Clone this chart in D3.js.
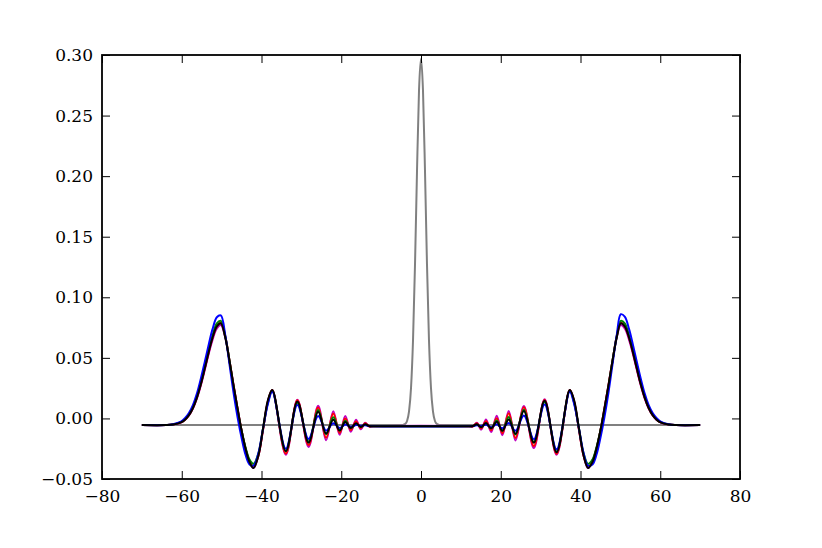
<!DOCTYPE html>
<html>
<head>
<meta charset="utf-8">
<script src="https://cdn.jsdelivr.net/npm/d3@7"></script>
<style>
  body { margin: 0; background: #fff; }
  text { font-family: "DejaVu Serif", serif; }
</style>
</head>
<body>
<svg id="chart"></svg>
<script>
const width = 822;
const height = 548;

// knot positions of the wave curves
const lobeXLeft = [-70, -64, -62.2, -60.2, -59.2, -58.2, -57.2, -56.2, -55.2, -54.2, -53.2, -52.3, -51.2,
  -50.2, -49.1, -48.0, -47.0, -46.0, -45.0, -44.0, -43.0, -42.0, -40.8, -39.6, -38.4, -37.3];
const rippleXLeft = [-33.9, -31.0, -28.2, -25.8, -23.8, -22.0, -20.4, -19.0, -17.6, -16.3, -15.1, -14.0, -13.0, -12.0];
const rippleXRight = [12.0, 13.0, 14.0, 15.1, 16.3, 17.6, 19.0, 20.4, 22.0, 23.7, 25.8, 28.3, 31.0, 34.0];
const lobeXRight = [37.3, 38.4, 39.6, 40.8, 41.9, 43.0, 44.0, 45.0, 46.0, 47.0, 48.0, 49.1, 50.1,
  51.1, 52.2, 53.1, 54.1, 55.1, 56.1, 57.1, 58.1, 59.1, 60.1, 62.1, 64.0, 70.0];

const blueY = [
  // left lobe
  -0.0055, -0.0054, -0.0048, -0.0026, 0.0002, 0.0045, 0.0110, 0.0205, 0.0330, 0.0470, 0.0615, 0.0735, 0.0835,
  0.0850, 0.069, 0.044, 0.021, 0.001, -0.016, -0.030, -0.038, -0.039, -0.029, -0.008, 0.012, 0.022,
  // ripples
  -0.0250, 0.0110, -0.0170, 0.0020, -0.0100, -0.0040, -0.0080, -0.0050, -0.0070, -0.0055, -0.0060, -0.0057, -0.0062, -0.0064,
  -0.0064, -0.0062, -0.0057, -0.0062, -0.0053, -0.0072, -0.0048, -0.0082, -0.0038, -0.0102, 0.0025, -0.0172, 0.0115, -0.0255,
  // right lobe
  0.022, 0.012, -0.008, -0.029, -0.039, -0.038, -0.030, -0.016, 0.001, 0.021, 0.044, 0.069, 0.0860,
  0.0840, 0.0735, 0.0615, 0.0470, 0.0330, 0.0205, 0.0110, 0.0045, 0.0002, -0.0026, -0.0048, -0.0054, -0.0055
];
const greenY = [
  -0.0055, -0.0055, -0.0050, -0.0031, -0.0008, 0.0031, 0.0092, 0.0180, 0.0295, 0.0430, 0.0570, 0.0683, 0.0785,
  0.0805, 0.068, 0.047, 0.026, 0.007, -0.010, -0.024, -0.034, -0.0375, -0.029, -0.008, 0.013, 0.023,
  -0.0270, 0.0130, -0.0190, 0.0070, -0.0130, 0.0010, -0.0100, -0.0020, -0.0080, -0.0045, -0.0070, -0.0050, -0.0063, -0.0064,
  -0.0064, -0.0063, -0.0050, -0.0072, -0.0043, -0.0082, -0.0018, -0.0102, 0.0012, -0.0132, 0.0072, -0.0195, 0.0135, -0.0272,
  0.023, 0.013, -0.008, -0.029, -0.0375, -0.034, -0.024, -0.010, 0.007, 0.026, 0.047, 0.068, 0.0805,
  0.0785, 0.0683, 0.0570, 0.0430, 0.0295, 0.0180, 0.0092, 0.0031, -0.0008, -0.0031, -0.0050, -0.0055, -0.0055
];
const redY = [
  -0.0055, -0.0055, -0.0051, -0.0033, -0.0011, 0.0027, 0.0086, 0.0172, 0.0284, 0.0416, 0.0553, 0.0664, 0.0762,
  0.0790, 0.068, 0.047, 0.027, 0.008, -0.010, -0.025, -0.035, -0.040, -0.031, -0.009, 0.014, 0.0235,
  -0.0290, 0.0150, -0.0220, 0.0090, -0.0160, 0.0040, -0.0120, 0.0000, -0.0095, -0.0025, -0.0080, -0.0040, -0.0065, -0.0064,
  -0.0064, -0.0065, -0.0040, -0.0082, -0.0023, -0.0097, 0.0002, -0.0122, 0.0042, -0.0162, 0.0092, -0.0228, 0.0152, -0.0292,
  0.0235, 0.014, -0.009, -0.031, -0.040, -0.035, -0.025, -0.010, 0.008, 0.027, 0.047, 0.068, 0.0790,
  0.0762, 0.0664, 0.0553, 0.0416, 0.0284, 0.0172, 0.0086, 0.0027, -0.0011, -0.0033, -0.0051, -0.0055, -0.0055
];
const magentaY = [
  -0.0055, -0.0055, -0.0051, -0.0034, -0.0013, 0.0024, 0.0081, 0.0165, 0.0275, 0.0404, 0.0538, 0.0646, 0.0742,
  0.0770, 0.067, 0.047, 0.027, 0.008, -0.010, -0.025, -0.036, -0.041, -0.031, -0.009, 0.014, 0.0235,
  -0.0300, 0.0155, -0.0235, 0.0105, -0.0180, 0.0060, -0.0135, 0.0020, -0.0110, -0.0010, -0.0090, -0.0035, -0.0067, -0.0064,
  -0.0064, -0.0067, -0.0035, -0.0092, -0.0008, -0.0112, 0.0022, -0.0138, 0.0062, -0.0182, 0.0102, -0.0245, 0.0158, -0.0300,
  0.0235, 0.014, -0.009, -0.031, -0.041, -0.036, -0.025, -0.010, 0.008, 0.027, 0.047, 0.067, 0.0770,
  0.0742, 0.0646, 0.0538, 0.0404, 0.0275, 0.0165, 0.0081, 0.0024, -0.0013, -0.0034, -0.0051, -0.0055, -0.0055
];
const blackY = [
  -0.0055, -0.0055, -0.0051, -0.0033, -0.0011, 0.0027, 0.0086, 0.0172, 0.0284, 0.0416, 0.0553, 0.0664, 0.0760,
  0.0785, 0.067, 0.047, 0.027, 0.008, -0.010, -0.025, -0.036, -0.041, -0.031, -0.008, 0.015, 0.0235,
  -0.0270, 0.0140, -0.0200, 0.0055, -0.0125, -0.0010, -0.0100, -0.0030, -0.0080, -0.0040, -0.0070, -0.0048, -0.0063, -0.0064,
  -0.0064, -0.0063, -0.0048, -0.0072, -0.0038, -0.0082, -0.0028, -0.0102, -0.0008, -0.0127, 0.0062, -0.0200, 0.0145, -0.0280,
  0.0235, 0.015, -0.008, -0.031, -0.041, -0.036, -0.025, -0.010, 0.008, 0.027, 0.047, 0.067, 0.0785,
  0.0760, 0.0664, 0.0553, 0.0416, 0.0284, 0.0172, 0.0086, 0.0027, -0.0011, -0.0033, -0.0051, -0.0055, -0.0055
];

// central gray peak
const peakX = [-70, -5, -4.5, -4, -3.5, -3, -2.5, -2, -1.5, -1, -0.5, 0, 0.5, 1, 1.5, 2, 2.5, 3, 3.5, 4, 4.5, 5, 70];
const peakY = [
  -0.0055, -0.0055, -0.0053, -0.0046, -0.0021, 0.0058, 0.0253, 0.0647, 0.1275, 0.2045, 0.2706, 0.2970,
  0.2706, 0.2045, 0.1275, 0.0647, 0.0253, 0.0058, -0.0021, -0.0046, -0.0053, -0.0055, -0.0055
];

const xTicks = [-80, -60, -40, -20, 0, 20, 40, 60, 80];
const yTicks = [-0.05, 0.00, 0.05, 0.10, 0.15, 0.20, 0.25, 0.30];

const waveX = lobeXLeft.concat(rippleXLeft, rippleXRight, lobeXRight);

const plotLeft = 102, plotRight = 740, plotTop = 55, plotBottom = 479;

const svg = d3.select("#chart")
    .attr("width", width)
    .attr("height", height);

const x = d3.scaleLinear().domain([-80, 80]).range([plotLeft, plotRight]);
const y = d3.scaleLinear().domain([-0.05, 0.30]).range([plotBottom, plotTop]);

const waveLine = d3.line()
    .x(d => x(d[0]))
    .y(d => y(d[1]))
    .curve(d3.curveCatmullRom.alpha(0.5));

const peakLine = d3.line()
    .x(d => x(d[0]))
    .y(d => y(d[1]))
    .curve(d3.curveMonotoneX);

const series = [
    {color: "#808080", xs: peakX, ys: peakY, line: peakLine},
    {color: "#bf00bf", xs: waveX, ys: magentaY, line: waveLine},
    {color: "#ff0000", xs: waveX, ys: redY, line: waveLine},
    {color: "#008000", xs: waveX, ys: greenY, line: waveLine},
    {color: "#0000ff", xs: waveX, ys: blueY, line: waveLine},
    {color: "#000000", xs: waveX, ys: blackY, line: waveLine}
];

svg.append("g")
    .selectAll("path")
    .data(series)
    .enter()
    .append("path")
    .attr("fill", "none")
    .attr("stroke", d => d.color)
    .attr("stroke-width", 2)
    .attr("d", d => d.line(d.xs.map((v, i) => [v, d.ys[i]])));

// axes with inward ticks on all four sides
const tick = 8;
svg.append("g")
    .attr("transform", `translate(0,${plotBottom})`)
    .call(d3.axisBottom(x).tickValues(xTicks).tickSizeInner(-tick).tickSizeOuter(0).tickPadding(11))
    .call(g => g.select(".domain").remove());
svg.append("g")
    .attr("transform", `translate(0,${plotTop})`)
    .call(d3.axisTop(x).tickValues(xTicks).tickSizeInner(-tick).tickSizeOuter(0).tickFormat(""))
    .call(g => g.select(".domain").remove());
svg.append("g")
    .attr("transform", `translate(${plotLeft},0)`)
    .call(d3.axisLeft(y).tickValues(yTicks).tickSizeInner(-tick).tickSizeOuter(0).tickPadding(9).tickFormat(d3.format(".2f")))
    .call(g => g.select(".domain").remove());
svg.append("g")
    .attr("transform", `translate(${plotRight},0)`)
    .call(d3.axisRight(y).tickValues(yTicks).tickSizeInner(-tick).tickSizeOuter(0).tickFormat(""))
    .call(g => g.select(".domain").remove());

svg.selectAll(".tick line").attr("stroke", "#000").attr("stroke-width", 1);
svg.selectAll(".tick text")
    .attr("font-family", "DejaVu Serif")
    .attr("font-size", 17)
    .attr("fill", "#000");

svg.append("rect")
    .attr("x", plotLeft)
    .attr("y", plotTop)
    .attr("width", plotRight - plotLeft)
    .attr("height", plotBottom - plotTop)
    .attr("fill", "none")
    .attr("stroke", "#000")
    .attr("stroke-width", 1.8);
</script>
</body>
</html>
